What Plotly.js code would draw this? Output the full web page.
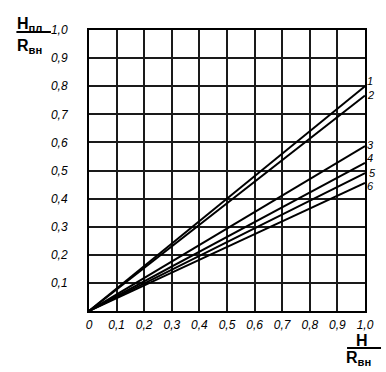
<!DOCTYPE html>
<html>
<head>
<meta charset="utf-8">
<script src="https://cdn.plot.ly/plotly-3.0.1.min.js"></script>
<style>html,body{margin:0;padding:0;background:#fff;}#chart{width:386px;height:372px;}</style>
</head>
<body>
<div id="chart"></div>
<script>
// Data (straight lines from the origin)
const xValues = [0, 1.0];
const curve1 = [0, 0.80];
const curve2 = [0, 0.767];
const curve3 = [0, 0.587];
const curve4 = [0, 0.527];
const curve5 = [0, 0.491];
const curve6 = [0, 0.456];
const curveNames = ['1', '2', '3', '4', '5', '6'];
const xTickVals = [0, 0.1, 0.2, 0.3, 0.4, 0.5, 0.6, 0.7, 0.8, 0.9, 1.0];
const xTickText = ['0', '0,1', '0,2', '0,3', '0,4', '0,5', '0,6', '0,7', '0,8', '0,9', '1,0'];
const yTickVals = [0.1, 0.2, 0.3, 0.4, 0.5, 0.6, 0.7, 0.8, 0.9, 1.0];
const yTickText = ['0,1', '0,2', '0,3', '0,4', '0,5', '0,6', '0,7', '0,8', '0,9', '1,0'];

const curves = [curve1, curve2, curve3, curve4, curve5, curve6];
const traces = curves.map((ys, i) => ({
  x: xValues, y: ys, mode: 'lines', type: 'scatter', name: curveNames[i],
  line: {color: '#000', width: 2}, hoverinfo: 'skip'
}));

const labelShift = [[5, 5], [5, 0], [5, 1], [5, 5], [7, 0], [5, -3]];
const lineLabels = curves.map((ys, i) => ({
  x: xValues[xValues.length - 1], y: ys[ys.length - 1], xref: 'x', yref: 'y',
  text: curveNames[i], showarrow: false,
  xanchor: 'center', yanchor: 'middle',
  xshift: labelShift[i][0], yshift: labelShift[i][1],
  font: {family: 'Liberation Sans', size: 11, style: 'italic', color: '#000'}
}));

const titleFont = {family: 'Liberation Sans', size: 16, color: '#000', weight: 'bold'};
const annotations = lineLabels.concat([
  {xref: 'paper', yref: 'paper', x: -0.263, y: 1.02, xanchor: 'left', yanchor: 'middle',
   text: 'H<sub>пл</sub>', showarrow: false, font: titleFont, borderpad: 0},
  {xref: 'paper', yref: 'paper', x: -0.263, y: 0.94, xanchor: 'left', yanchor: 'middle',
   text: 'R<sub>вн</sub>', showarrow: false, font: titleFont, borderpad: 0},
  {xref: 'paper', yref: 'paper', x: 0.989, y: -0.104, xanchor: 'center', yanchor: 'middle',
   text: 'H', showarrow: false, font: titleFont, borderpad: 0},
  {xref: 'paper', yref: 'paper', x: 0.926, y: -0.168, xanchor: 'left', yanchor: 'middle',
   text: 'R<sub>вн</sub>', showarrow: false, font: titleFont, borderpad: 0}
]);

const gridColor = '#1a1a1a';
const axisCommon = {
  range: [0, 1.0], ticks: '',
  showgrid: true, gridcolor: gridColor, gridwidth: 2,
  showline: true, linecolor: '#000', linewidth: 2, mirror: true, zeroline: false,
  tickfont: {family: 'Liberation Sans', size: 12, style: 'italic', color: '#000'},
  fixedrange: true
};
const layout = {
  width: 386, height: 372,
  margin: {l: 89, r: 21, t: 30, b: 61},
  paper_bgcolor: '#fff', plot_bgcolor: '#fff',
  showlegend: false,
  font: {family: 'Liberation Sans', color: '#000'},
  xaxis: Object.assign({}, axisCommon, {tickvals: xTickVals, ticktext: xTickText, ticklabelstandoff: 2}),
  yaxis: Object.assign({}, axisCommon, {tickvals: yTickVals, ticktext: yTickText, ticklabelstandoff: 17}),
  shapes: [
    {type: 'line', xref: 'paper', yref: 'paper', x0: -0.263, x1: -0.138, y0: 0.993, y1: 0.993,
     line: {color: '#000', width: 2}},
    {type: 'line', xref: 'paper', yref: 'paper', x0: 0.935, x1: 1.058, y0: -0.132, y1: -0.132,
     line: {color: '#000', width: 2}}
  ],
  annotations: annotations
};

Plotly.newPlot('chart', traces, layout, {displayModeBar: false, staticPlot: true});
</script>
</body>
</html>
